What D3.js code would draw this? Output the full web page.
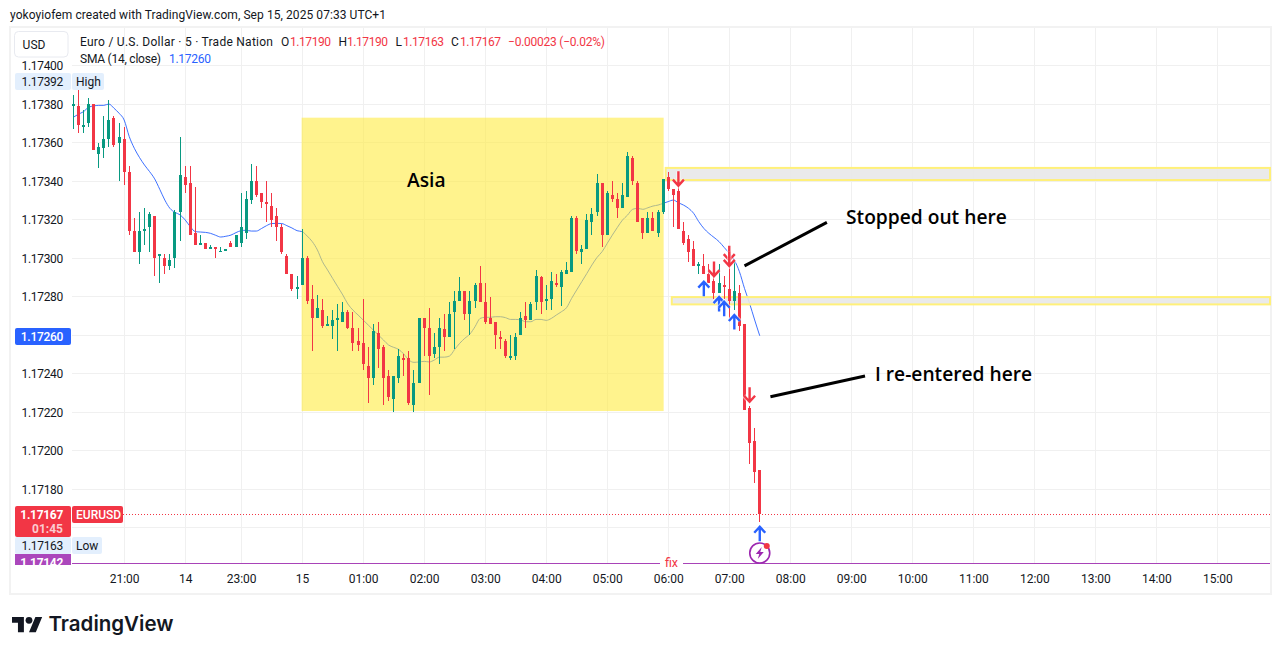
<!DOCTYPE html>
<html><head><meta charset="utf-8">
<script src="https://cdn.jsdelivr.net/npm/d3@7/dist/d3.min.js"></script>
<style>
html,body{margin:0;padding:0;background:#fff;overflow:hidden}
svg{display:block}
text{font-family:"Roboto",sans-serif;font-size:12px;fill:#131722}
</style></head><body>
<svg id="c" width="1281" height="654"></svg>
<script>
const opens=[1.17379,1.17379,1.17368,1.17370,1.17380,1.17354,1.17357,1.17362,1.17373,1.17360,
1.17362,1.17345,1.17314,1.17303,1.17314,1.17316,1.17322,1.17301,1.17300,1.17296,
1.17300,1.17324,1.17342,1.17339,1.17313,1.17307,1.17308,1.17305,1.17306,1.17303,
1.17304,1.17308,1.17306,1.17308,1.17313,1.17330,1.17340,1.17334,1.17329,1.17327,
1.17322,1.17316,1.17301,1.17292,1.17284,1.17286,1.17300,1.17279,1.17269,1.17273,
1.17265,1.17265,1.17268,1.17267,1.17272,1.17264,1.17257,1.17256,1.17244,1.17238,
1.17261,1.17254,1.17239,1.17227,1.17238,1.17248,1.17248,1.17224,1.17235,1.17269,
1.17264,1.17250,1.17254,1.17263,1.17259,1.17272,1.17278,1.17283,1.17271,1.17278,
1.17287,1.17277,1.17269,1.17267,1.17259,1.17257,1.17248,1.17249,1.17260,1.17270,
1.17268,1.17277,1.17290,1.17278,1.17279,1.17287,1.17285,1.17292,1.17293,1.17321,
1.17303,1.17305,1.17319,1.17324,1.17339,1.17312,1.17333,1.17331,1.17326,1.17332,
1.17352,1.17339,1.17321,1.17313,1.17321,1.17313,1.17324,1.17342,1.17336,1.17335,
1.17314,1.17310,1.17305,1.17296,1.17296,1.17292,1.17288,1.17282,1.17286,1.17284,
1.17278,1.17282,1.17266,1.17222,1.17205,1.17190];
const highs=[1.17385,1.17392,1.17377,1.17383,1.17380,1.17360,1.17374,1.17382,1.17374,1.17370,
1.17368,1.17348,1.17321,1.17324,1.17326,1.17324,1.17322,1.17302,1.17302,1.17302,
1.17325,1.17363,1.17348,1.17348,1.17337,1.17312,1.17308,1.17307,1.17306,1.17306,
1.17305,1.17309,1.17312,1.17334,1.17335,1.17349,1.17348,1.17334,1.17340,1.17334,
1.17326,1.17318,1.17302,1.17292,1.17291,1.17315,1.17301,1.17286,1.17281,1.17279,
1.17270,1.17273,1.17276,1.17277,1.17273,1.17272,1.17264,1.17279,1.17254,1.17266,
1.17267,1.17255,1.17242,1.17239,1.17253,1.17250,1.17252,1.17242,1.17269,1.17269,
1.17274,1.17261,1.17269,1.17271,1.17277,1.17283,1.17290,1.17283,1.17283,1.17287,
1.17296,1.17287,1.17280,1.17267,1.17262,1.17258,1.17260,1.17261,1.17272,1.17277,
1.17277,1.17294,1.17291,1.17286,1.17293,1.17292,1.17294,1.17298,1.17322,1.17322,
1.17307,1.17323,1.17326,1.17344,1.17339,1.17335,1.17340,1.17334,1.17339,1.17355,
1.17353,1.17340,1.17321,1.17324,1.17324,1.17325,1.17341,1.17345,1.17336,1.17344,
1.17319,1.17312,1.17309,1.17298,1.17302,1.17297,1.17298,1.17297,1.17291,1.17296,
1.17299,1.17286,1.17266,1.17223,1.17212,1.17190];
const lows=[1.17367,1.17365,1.17365,1.17368,1.17356,1.17347,1.17352,1.17358,1.17358,1.17340,
1.17338,1.17312,1.17303,1.17297,1.17307,1.17303,1.17291,1.17287,1.17292,1.17294,
1.17295,1.17309,1.17334,1.17312,1.17307,1.17307,1.17305,1.17305,1.17300,1.17303,
1.17304,1.17306,1.17306,1.17306,1.17310,1.17328,1.17332,1.17326,1.17319,1.17316,
1.17309,1.17302,1.17292,1.17283,1.17279,1.17286,1.17276,1.17252,1.17269,1.17264,
1.17265,1.17258,1.17252,1.17267,1.17263,1.17252,1.17252,1.17242,1.17225,1.17234,
1.17243,1.17224,1.17226,1.17220,1.17235,1.17239,1.17224,1.17220,1.17235,1.17249,
1.17229,1.17248,1.17245,1.17252,1.17259,1.17253,1.17278,1.17268,1.17260,1.17274,
1.17277,1.17266,1.17266,1.17253,1.17253,1.17248,1.17247,1.17247,1.17260,1.17264,
1.17268,1.17273,1.17271,1.17273,1.17273,1.17285,1.17275,1.17292,1.17293,1.17302,
1.17297,1.17305,1.17312,1.17322,1.17306,1.17312,1.17329,1.17321,1.17326,1.17332,
1.17338,1.17319,1.17310,1.17313,1.17314,1.17311,1.17323,1.17335,1.17316,1.17315,
1.17307,1.17298,1.17296,1.17292,1.17292,1.17287,1.17279,1.17282,1.17279,1.17269,
1.17273,1.17262,1.17221,1.17193,1.17183,1.17163];
const closes=[1.17380,1.17369,1.17369,1.17380,1.17356,1.17358,1.17362,1.17372,1.17359,1.17363,
1.17345,1.17314,1.17303,1.17314,1.17315,1.17323,1.17300,1.17302,1.17296,1.17299,
1.17324,1.17343,1.17338,1.17312,1.17307,1.17308,1.17305,1.17306,1.17305,1.17304,
1.17305,1.17306,1.17312,1.17316,1.17331,1.17340,1.17333,1.17329,1.17328,1.17320,
1.17316,1.17303,1.17292,1.17284,1.17285,1.17300,1.17278,1.17269,1.17274,1.17265,
1.17266,1.17268,1.17269,1.17272,1.17264,1.17256,1.17255,1.17245,1.17238,1.17262,
1.17253,1.17238,1.17228,1.17239,1.17249,1.17247,1.17225,1.17235,1.17269,1.17264,
1.17249,1.17254,1.17264,1.17259,1.17271,1.17278,1.17283,1.17271,1.17278,1.17286,
1.17277,1.17267,1.17266,1.17260,1.17258,1.17249,1.17249,1.17259,1.17269,1.17268,
1.17276,1.17291,1.17277,1.17279,1.17288,1.17286,1.17293,1.17294,1.17321,1.17304,
1.17305,1.17320,1.17323,1.17339,1.17312,1.17334,1.17331,1.17326,1.17333,1.17353,
1.17340,1.17319,1.17313,1.17321,1.17314,1.17324,1.17341,1.17336,1.17333,1.17315,
1.17308,1.17303,1.17296,1.17297,1.17292,1.17287,1.17282,1.17287,1.17285,1.17278,
1.17283,1.17265,1.17221,1.17204,1.17189,1.17167];
const sma=[1.173732,1.173748,1.173761,1.173784,1.173791,1.173794,1.173794,1.173801,1.173779,1.173753,
1.173718,1.173632,1.173571,1.173524,1.173484,1.173450,1.173412,1.173358,1.173302,1.173259,
1.173238,1.173225,1.173199,1.173164,1.173138,1.173136,1.173134,1.173129,1.173119,1.173110,
1.173114,1.173120,1.173133,1.173143,1.173145,1.173141,1.173141,1.173154,1.173169,1.173180,
1.173181,1.173180,1.173169,1.173157,1.173143,1.173138,1.173115,1.173086,1.173043,1.172982,
1.172939,1.172895,1.172852,1.172809,1.172762,1.172730,1.172705,1.172679,1.172653,1.172627,
1.172601,1.172575,1.172549,1.172537,1.172526,1.172502,1.172471,1.172459,1.172461,1.172464,
1.172461,1.172471,1.172486,1.172486,1.172492,1.172526,1.172558,1.172584,1.172606,1.172644,
1.172687,1.172693,1.172693,1.172696,1.172696,1.172691,1.172682,1.172682,1.172679,1.172670,
1.172670,1.172682,1.172682,1.172677,1.172687,1.172705,1.172722,1.172743,1.172791,1.172835,
1.172878,1.172921,1.172965,1.173004,1.173034,1.173077,1.173120,1.173160,1.173198,1.173224,
1.173254,1.173259,1.173254,1.173262,1.173271,1.173276,1.173285,1.173294,1.173302,1.173288,
1.173276,1.173259,1.173233,1.173190,1.173155,1.173129,1.173108,1.173086,1.173056,1.173025,
1.172990,1.172930,1.172843,1.172765,1.172679,1.172597];
const priceTicks=[1.174,1.1738,1.1736,1.1734,1.1732,1.173,1.1728,1.1726,1.1724,1.1722,1.172,1.1718,1.1716];
const timeIdx=[10,22,33,45,57,69,81,93,105,117,129,141,153,165,177,189,201,213,225];
const timeLabels=["21:00","14","23:00","15","01:00","02:00","03:00","04:00","05:00","06:00","07:00","08:00","09:00","10:00","11:00","12:00","13:00","14:00","15:00"];
const asiaBox={i0:44.9,i1:116,p0:1.17373,p1:1.172206};
const zones=[{i0:116.5,p0:1.173469,p1:1.173406},{i0:117.7,p0:1.172798,p1:1.17276}];
const arrowsDown=[{i:119,p:1.173377},{i:126,p:1.172907},{i:133,p:1.172254},{i:129,p:1.17299},{i:129,p:1.17296}];
const arrowsUp=[{i:124,p:1.172878},{i:127,p:1.172798},{i:128,p:1.172774},{i:130,p:1.172705},{i:135,p:1.171605}];
const notes=[{i0:132,p0:1.17296,i1:148.2,p1:1.173186},{i0:137.1,p0:1.17228,i1:155.7,p1:1.172388}];

const RED="#f23645",GREEN="#089981",BLUE="#2962ff",PURPLE="#9c27b0",GRID="#f0f0f0";
const svg=d3.select("#c");
const x=d3.scaleLinear().domain([0,225]).range([73.3,1217.4]);
const y=d3.scaleLinear().domain([1.174,1.1716]).range([65.7,527.7]);
const L=72,R=1270,T=28,B=563.3;
const px=v=>Math.floor(v)+0.5;

svg.append("rect").attr("x",10).attr("y",27).attr("width",1261).attr("height",567).attr("fill","none").attr("stroke","#f2f2f2").attr("stroke-width",2);
// grid
const g=svg.append("g").attr("shape-rendering","crispEdges");
g.selectAll("line.h").data(priceTicks).join("line").attr("x1",L).attr("x2",R)
 .attr("y1",d=>px(y(d))).attr("y2",d=>px(y(d))).attr("stroke",GRID);
g.selectAll("line.v").data(timeIdx).join("line").attr("class","v").attr("y1",T).attr("y2",B)
 .attr("x1",d=>px(x(d))).attr("x2",d=>px(x(d))).attr("stroke",GRID);

// SMA
const chart=svg.append("g");
chart.append("path").datum(sma).attr("fill","none").attr("stroke",BLUE).attr("stroke-width",1).attr("stroke-opacity",.9)
 .attr("d",d3.line().x((d,i)=>x(i)).y(d=>y(d)).curve(d3.curveMonotoneX));

// Asia box
chart.append("rect").attr("x",x(asiaBox.i0)).attr("width",x(asiaBox.i1)-x(asiaBox.i0)+.5)
 .attr("y",y(asiaBox.p0)).attr("height",y(asiaBox.p1)-y(asiaBox.p0)).attr("fill","#ffeb3b").attr("fill-opacity",.58);
// zones
zones.forEach(z=>{
  const yt=y(z.p0),yb=y(z.p1),xl=x(z.i0);
  chart.append("rect").attr("x",xl).attr("y",yt).attr("width",R-xl).attr("height",yb-yt).attr("fill","#e8e8e8").attr("fill-opacity",.9);
  chart.append("rect").attr("x",xl).attr("y",yt).attr("width",R-xl).attr("height",yb-yt).attr("fill","none").attr("stroke","#fff07a").attr("stroke-width",2);
});

// candles
const n=opens.length, idx=d3.range(n);
const cg=chart.append("g").attr("shape-rendering","crispEdges");
const col=i=>closes[i]>=opens[i]?GREEN:RED;
cg.selectAll("line").data(idx).join("line").attr("x1",i=>px(x(i))).attr("x2",i=>px(x(i)))
 .attr("y1",i=>y(highs[i])).attr("y2",i=>y(lows[i])).attr("stroke",col);
cg.selectAll("rect").data(idx).join("rect").attr("x",i=>Math.floor(x(i))-1).attr("width",3)
 .attr("y",i=>y(Math.max(opens[i],closes[i])))
 .attr("height",i=>Math.max(1,Math.abs(y(opens[i])-y(closes[i])))).attr("fill",col);

// last price dotted
const lastP=closes[n-1];
chart.append("line").attr("x1",123).attr("x2",R).attr("y1",px(y(lastP))).attr("y2",px(y(lastP)))
 .attr("stroke",RED).attr("stroke-dasharray","1 2").attr("shape-rendering","crispEdges");

// arrows
function arrow(dir,color,d){
  const s=dir;
  const path=`M-5.5,${6*s}L0,0L5.5,${6*s}M0,0L0,${14.5*s}`;
  const t=`translate(${x(d.i)},${y(d.p)})`;
  chart.append("path").attr("d",path).attr("transform",t).attr("fill","none").attr("stroke","#fff").attr("stroke-opacity",.55).attr("stroke-width",4.5);
  chart.append("path").attr("d",path).attr("transform",t).attr("fill","none").attr("stroke",color).attr("stroke-width",2.4);
}
arrowsDown.forEach(d=>arrow(-1,RED,d));
arrowsUp.forEach(d=>arrow(1,BLUE,d));

// notes
notes.forEach(a=>chart.append("line").attr("x1",x(a.i0)).attr("y1",y(a.p0)).attr("x2",x(a.i1)).attr("y2",y(a.p1))
 .attr("stroke","#000").attr("stroke-width",3));
const note=(t,xx,yy)=>svg.append("text").attr("x",xx).attr("y",yy).text(t).style("fill","#000")
  .style("font-family","'Open Sans',sans-serif").style("font-size","19.2px").style("font-weight",600);
note("Asia",407,187);
note("Stopped out here",846,224);
note("I re-entered here",875,381);

// time axis
svg.append("g").attr("transform",`translate(0,${B+20})`)
 .call(d3.axisBottom(x).tickValues(timeIdx).tickFormat((d,i)=>timeLabels[i]).tickSize(0).tickPadding(0))
 .call(s=>s.select(".domain").remove())
 .call(s=>s.selectAll("text").attr("dy",0).attr("y",0).style("font-size","12px").style("font-family","Roboto,sans-serif").style("fill","#131722"));
// bottom purple line with fix label
svg.append("line").attr("x1",L).attr("x2",660).attr("y1",563.5).attr("y2",563.5).attr("stroke","#a843b8").attr("shape-rendering","crispEdges");
svg.append("line").attr("x1",683).attr("x2",R).attr("y1",563.5).attr("y2",563.5).attr("stroke","#a843b8").attr("shape-rendering","crispEdges");
svg.append("text").attr("x",671.5).attr("y",566.5).attr("text-anchor","middle").text("fix").style("fill",RED).style("font-size","12.5px");

// flash icon
const fi=svg.append("g").attr("transform",`translate(${x(135)},553)`);
fi.append("circle").attr("r",10).attr("fill","#fff").attr("stroke",PURPLE).attr("stroke-width",1.6);
fi.append("path").attr("d","M2,-6L-4,1H-.5L-2,6L4,-1H.5Z").attr("fill",PURPLE);
fi.append("circle").attr("cx",7).attr("cy",-7).attr("r",3).attr("fill",RED);

// price axis
svg.append("rect").attr("x",12).attr("y",28).attr("width",59.5).attr("height",536).attr("fill","#fff");
svg.append("g").attr("transform","translate(63,0)")
 .call(d3.axisLeft(y).tickValues(priceTicks.filter(d=>d>1.1717)).tickFormat(d3.format(".5f")).tickSize(0).tickPadding(0))
 .call(s=>s.select(".domain").remove())
 .call(s=>s.selectAll("text").style("font-size","12px").style("letter-spacing","-.3px").style("font-family","Roboto,sans-serif").style("fill","#131722"));

// USD button
svg.append("rect").attr("x",14.5).attr("y",31.5).attr("width",53.5).attr("height",25.5).attr("rx",4).attr("fill","#fff").attr("stroke","#e8eaf0");
svg.append("text").attr("x",34).attr("y",49).attr("text-anchor","middle").text("USD");

function tag(px0,py0,w,h,fill,txt,tx,ty,color,weight,anchor,ls){
  svg.append("rect").attr("x",px0).attr("y",py0).attr("width",w).attr("height",h).attr("rx",2).attr("fill",fill);
  if(txt) svg.append("text").attr("x",tx).attr("y",ty).attr("text-anchor",anchor||"end").text(txt).style("fill",color).style("font-weight",weight||400).style("letter-spacing",ls||"-.3px");
}
const BL="#e3effd";
tag(15,73,56,17,BL,"1.17392",63,85.5,"#131722");
tag(72,73,32,17,BL,"High",76,85.5,"#131722",400,"start","0");
tag(15,328,56,17,BLUE,"1.17260",63,341,"#fff",500);
tag(15,506,56,31,RED,"1.17167",63,518.5,"#fff",700);
svg.append("text").attr("x",63).attr("y",533).attr("text-anchor","end").text("01:45").style("fill","#fff").style("fill-opacity",.75).style("font-weight",700);
tag(72,506,51,17,RED,"EURUSD",76,519,"#fff",500,"start","0");
tag(15,537,56,17,BL,"1.17163",63,550,"#131722");
tag(72,537,30,17,BL,"Low",76,550,"#131722",400,"start","0");
svg.append("clipPath").attr("id","pc").append("rect").attr("x",15).attr("y",554).attr("width",56).attr("height",11);
const pg=svg.append("g").attr("clip-path","url(#pc)");
pg.append("rect").attr("x",15).attr("y",554).attr("width",56).attr("height",17).attr("fill","#ab47bc");
pg.append("text").attr("x",63).attr("y",567).attr("text-anchor","end").text("1.17142").style("fill","#fff").style("font-weight",700).style("letter-spacing","-.3px");

// legend
const leg=(t,xx,yy,c,len)=>{const s=svg.append("text").attr("x",xx).attr("y",yy).text(t).style("fill",c||"#131722");
  if(len) s.attr("textLength",len).attr("lengthAdjust","spacing");return s;};
leg("Euro / U.S. Dollar · 5 · Trade Nation",80,46,null,193);
leg("O",281,46);leg("1.17190",290,46,RED,41);
leg("H",338.5,46);leg("1.17190",347,46,RED,41);
leg("L",395.5,46);leg("1.17163",403,46,RED,41);
leg("C",451,46);leg("1.17167",460,46,RED,41);
leg("−0.00023 (−0.02%)",508,46,RED,97);
leg("SMA (14, close)",80,63,null,81);leg("1.17260",169,63,BLUE,42);
leg("yokoyiofem created with TradingView.com, Sep 15, 2025 07:33 UTC+1",10,19,null,376);

// logo
const lg=svg.append("g").attr("transform","translate(12,613.5) scale(.85)");
lg.append("path").attr("d","M14 22H7V11H0V4h14v18zM28 22h-8l7.5-18h8L28 22z").attr("fill","#131722");
lg.append("circle").attr("cx",20).attr("cy",8).attr("r",4).attr("fill","#131722");
svg.append("text").attr("x",48.5).attr("y",631).text("TradingView").style("font-size","20.5px").style("font-weight",600).style("font-family","Inter,sans-serif").style("fill","#131722");
</script></body></html>
